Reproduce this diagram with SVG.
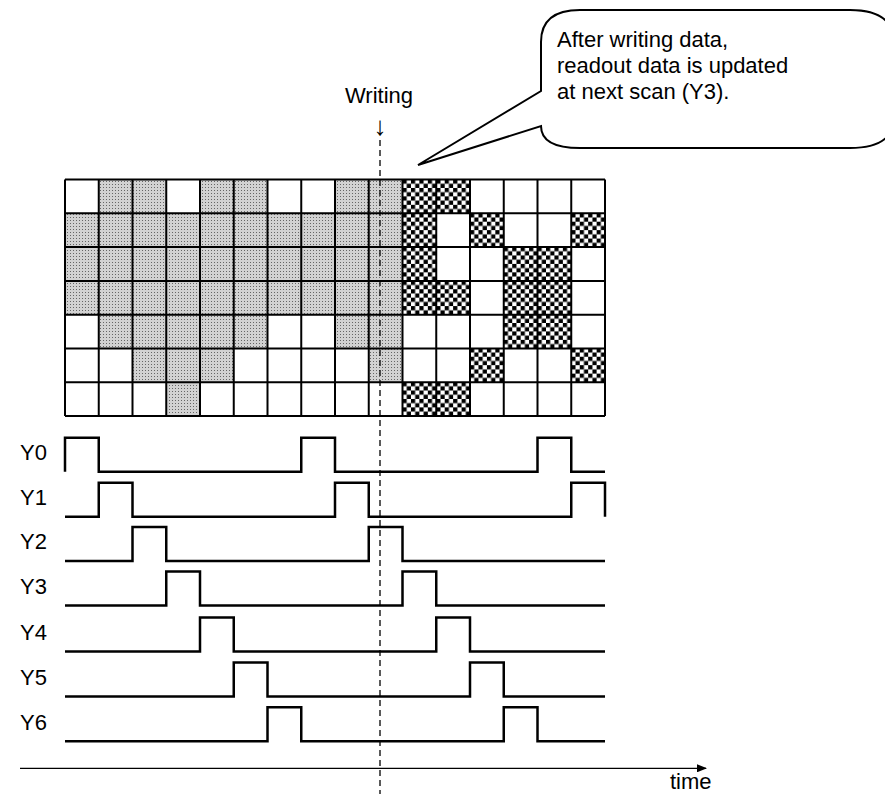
<svg xmlns="http://www.w3.org/2000/svg" width="885" height="794" viewBox="0 0 885 794">
<style>
.t{font-family:"Liberation Sans",Arial,sans-serif;font-size:22px;fill:#000}
.grid{stroke:#000;stroke-width:2;fill:none}
.sig{stroke:#000;stroke-width:2.5;fill:none;stroke-linejoin:miter}
.dot{fill:url(#dots)}
.chk{fill:url(#chk)}
</style>
<defs>
<pattern id="dots" x="0" y="0" width="3" height="3" patternUnits="userSpaceOnUse">
<rect width="3" height="3" fill="#d2d2d2"/>
<rect x="1" y="1" width="1" height="1" fill="#666"/>
</pattern>
<pattern id="chk" x="402.5" y="179.5" width="8.44" height="8.44" patternUnits="userSpaceOnUse">
<rect width="8.44" height="8.44" fill="#fff"/>
<rect x="0" y="0" width="4.22" height="4.22" fill="#000"/>
<rect x="4.22" y="4.22" width="4.22" height="4.22" fill="#000"/>
</pattern>
<marker id="arr" markerWidth="10" markerHeight="8" refX="9" refY="4" orient="auto" markerUnits="userSpaceOnUse">
<path d="M0,0 L10,4 L0,8 Z" fill="#000"/>
</marker>
</defs>

<g id="callout">
<path d="M541,91 V42 Q541,10 580,10 H850 Q895,10 895,45 V115 Q895,148 850,148 H580 Q541,148 541,126 L418,165 Z" fill="#fff" stroke="#000" stroke-width="2"/>
<text class="t" x="557" y="47">After writing data,</text>
<text class="t" x="557" y="73">readout data is updated</text>
<text class="t" x="557" y="99">at next scan (Y3).</text>
</g>

<g id="writing-label">
<text class="t" x="379" y="103" text-anchor="middle">Writing</text>
<text x="380" y="135" text-anchor="middle" font-family="Liberation Sans,Arial,sans-serif" font-size="26">↓</text>
</g>

<g id="matrix">
<rect class="dot" x="98.75" y="179.5" width="67.5" height="33.8"/>
<rect class="dot" x="200" y="179.5" width="67.5" height="33.8"/>
<rect class="dot" x="335" y="179.5" width="67.5" height="33.8"/>
<rect class="dot" x="65" y="213.3" width="337.5" height="101.4"/>
<rect class="dot" x="98.75" y="314.7" width="168.75" height="33.7"/>
<rect class="dot" x="335" y="314.7" width="67.5" height="33.7"/>
<rect class="dot" x="132.5" y="348.4" width="101.25" height="33.8"/>
<rect class="dot" x="368.75" y="348.4" width="33.75" height="33.8"/>
<rect class="dot" x="166.25" y="382.2" width="33.75" height="33.8"/>
<rect class="chk" x="402.5" y="179.5" width="67.5" height="33.8"/>
<rect class="chk" x="402.5" y="213.3" width="33.75" height="101.4"/>
<rect class="chk" x="470" y="213.3" width="33.75" height="33.8"/>
<rect class="chk" x="571.25" y="213.3" width="33.75" height="33.8"/>
<rect class="chk" x="503.75" y="247.1" width="67.5" height="101.3"/>
<rect class="chk" x="436.25" y="280.9" width="33.75" height="33.8"/>
<rect class="chk" x="470" y="348.4" width="33.75" height="33.8"/>
<rect class="chk" x="571.25" y="348.4" width="33.75" height="33.8"/>
<rect class="chk" x="402.5" y="382.2" width="67.5" height="33.8"/>
<path class="grid" d="M65,179.5 H605 M65,213.3 H605 M65,247.1 H605 M65,280.9 H605 M65,314.7 H605 M65,348.4 H605 M65,382.2 H605 M65,416 H605
M65,179.5 V416 M98.75,179.5 V416 M132.5,179.5 V416 M166.25,179.5 V416 M200,179.5 V416 M233.75,179.5 V416 M267.5,179.5 V416 M301.25,179.5 V416 M335,179.5 V416 M368.75,179.5 V416 M402.5,179.5 V416 M436.25,179.5 V416 M470,179.5 V416 M503.75,179.5 V416 M537.5,179.5 V416 M571.25,179.5 V416 M605,179.5 V416"/>
</g>

<g id="labels">
<text class="t" x="20" y="460">Y0</text>
<text class="t" x="20" y="505">Y1</text>
<text class="t" x="20" y="549">Y2</text>
<text class="t" x="20" y="594">Y3</text>
<text class="t" x="20" y="640">Y4</text>
<text class="t" x="20" y="685">Y5</text>
<text class="t" x="20" y="730">Y6</text>
<text class="t" x="670" y="789">time</text>
</g>

<g id="connectors">
<path class="sig" d="M65,471.7 V437.7 H98.75 V471.7 H301.25 V437.7 H335 V471.7 H537.5 V437.7 H571.25 V471.7 H605"/>
<path class="sig" d="M65,516.7 H98.75 V482.7 H132.5 V516.7 H335 V482.7 H368.75 V516.7 H571.25 V482.7 H605 V516.7"/>
<path class="sig" d="M65,561 H132.5 V527 H166.25 V561 H368.75 V527 H402.5 V561 H605"/>
<path class="sig" d="M65,605.5 H166.25 V571.5 H200 V605.5 H402.5 V571.5 H436.25 V605.5 H605"/>
<path class="sig" d="M65,651.5 H200 V617.5 H233.75 V651.5 H436.25 V617.5 H470 V651.5 H605"/>
<path class="sig" d="M65,696.5 H233.75 V662.5 H267.5 V696.5 H470 V662.5 H503.75 V696.5 H605"/>
<path class="sig" d="M65,741.3 H267.5 V707.3 H301.25 V741.3 H503.75 V707.3 H537.5 V741.3 H605"/>
<line x1="380" y1="140" x2="380" y2="794" stroke="#000" stroke-width="1.3" stroke-dasharray="6,4"/>
<line x1="20" y1="768.3" x2="706" y2="768.3" stroke="#000" stroke-width="1.3" marker-end="url(#arr)"/>
</g>
</svg>
